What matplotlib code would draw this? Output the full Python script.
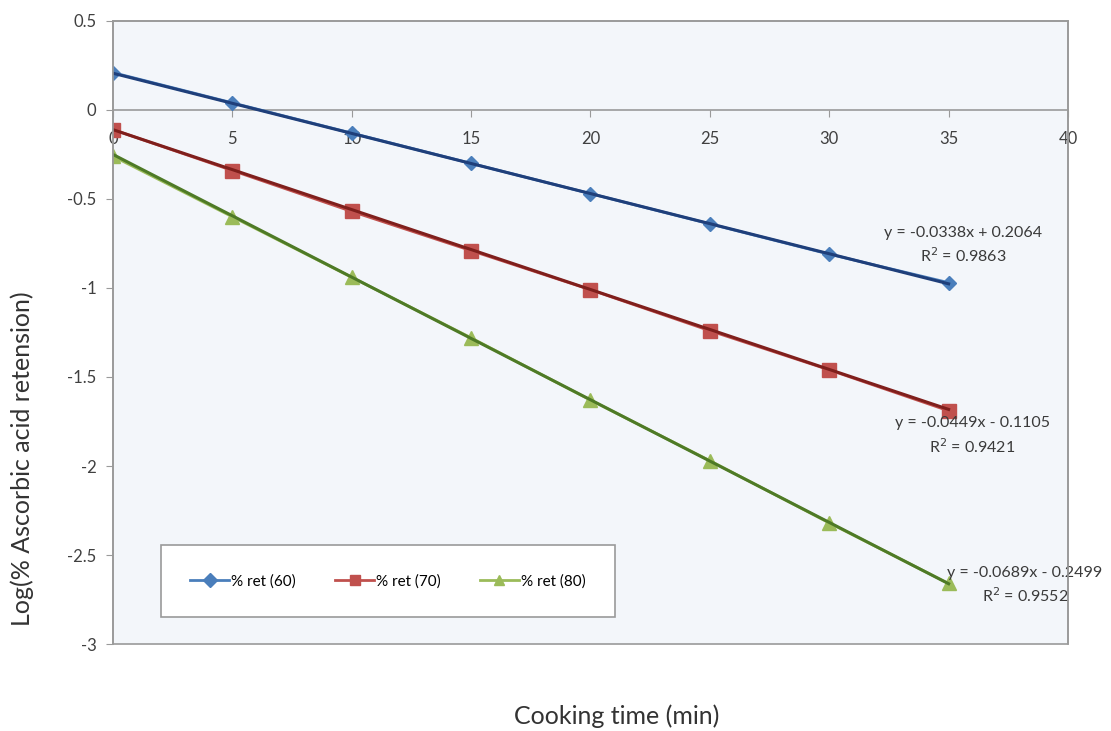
import numpy as np
import matplotlib
matplotlib.use("Agg")
import matplotlib.pyplot as plt
from matplotlib.patches import Rectangle
from matplotlib.ticker import FuncFormatter

plt.rcParams['font.family'] = ['Lato', 'DejaVu Sans']
plt.rcParams['axes.unicode_minus'] = False

# data
time_min = [0, 5, 10, 15, 20, 25, 30, 35]
ret_60 = [0.21, 0.04, -0.13, -0.30, -0.47, -0.64, -0.81, -0.97]
ret_70 = [-0.11, -0.34, -0.57, -0.79, -1.01, -1.24, -1.46, -1.69]
ret_80 = [-0.26, -0.60, -0.94, -1.28, -1.63, -1.97, -2.32, -2.66]

# trendline coefficients shown on the chart (slope, intercept, R2)
fit_60 = (-0.0338, 0.2064, 0.9863)
fit_70 = (-0.0449, -0.1105, 0.9421)
fit_80 = (-0.0689, -0.2499, 0.9552)

labels = ['% ret (60)', '% ret (70)', '% ret (80)']
series = [ret_60, ret_70, ret_80]
fits = [fit_60, fit_70, fit_80]
markers = ['D', 's', '^']
msizes = [7, 10, 10]
light = ['#4a7ebb', '#c0504d', '#9bbb59']
dark = ['#1f3f7a', '#7f1f1c', '#4e7a26']

fig = plt.figure(figsize=(11.11, 7.31), dpi=100)
ax = fig.add_axes([0.1017, 0.119, 0.8596, 0.8523])
ax.set_facecolor('#f3f6fa')

x = np.array(time_min)
for ys, (m, b, r2), mk, ms, lc, dc, lab in zip(series, fits, markers, msizes, light, dark, labels):
    ax.plot(x, ys, color=lc, lw=2, marker=mk, markersize=ms, markerfacecolor=lc,
            markeredgecolor=lc, label=lab, zorder=3)
    ax.plot(x, m * x + b, color=dc, lw=2.2, zorder=4)

# equation labels
eq_pos = [(35.6, -0.69), (36.0, -1.76), (38.2, -2.60)]
for (m, b, r2), (tx, ty) in zip(fits, eq_pos):
    sign = '+' if b >= 0 else '-'
    ax.text(tx, ty, f'y = {m:.4f}x {sign} {abs(b):.4f}', ha='center', va='center',
            fontsize=11.5, color='#3a3a3a', zorder=5)
    ax.text(tx, ty - 0.13, f'R$^2$ = {r2:.4f}', ha='center', va='center',
            fontsize=11.5, color='#3a3a3a', zorder=5)

ax.set_xlim(0, 40)
ax.set_ylim(-3, 0.5)
ax.set_xticks(range(0, 41, 5))
ax.set_yticks(np.arange(-3, 0.51, 0.5))
ax.yaxis.set_major_formatter(FuncFormatter(lambda v, p: f'{v:g}'))

for s in ['top', 'right', 'left']:
    ax.spines[s].set_color('#9a9a9a')
    ax.spines[s].set_linewidth(1.2)
ax.spines['bottom'].set_position(('data', 0))
ax.spines['bottom'].set_color('#9a9a9a')
ax.spines['bottom'].set_linewidth(1.2)
ax.add_patch(Rectangle((0, 0), 1, 1, transform=ax.transAxes, fill=False,
                       edgecolor='#9a9a9a', lw=1.2, clip_on=False, zorder=6))

ax.tick_params(axis='both', direction='out', length=5, color='#9a9a9a',
               labelsize=12, labelcolor='#404040')
ax.tick_params(axis='x', pad=10)
ax.tick_params(axis='y', pad=7)

leg = ax.legend(loc='center', bbox_to_anchor=(0.288, 0.101), ncol=3,
                fancybox=False, framealpha=1, edgecolor='#9a9a9a', fontsize=11,
                handlelength=2.5, borderpad=1.9, columnspacing=2.6,
                borderaxespad=0, handletextpad=0.15)
leg.get_frame().set_linewidth(1.2)
for h in leg.legend_handles:
    h.set_markersize(7)

fig.text(0.02, 0.372, 'Log(% Ascorbic acid retension)', rotation=90,
         ha='center', va='center', fontsize=18, color='#333333')
fig.text(0.555, 0.0205, 'Cooking time (min)', ha='center', va='center',
         fontsize=18, color='#333333')

fig.savefig('out.png', dpi=100)
